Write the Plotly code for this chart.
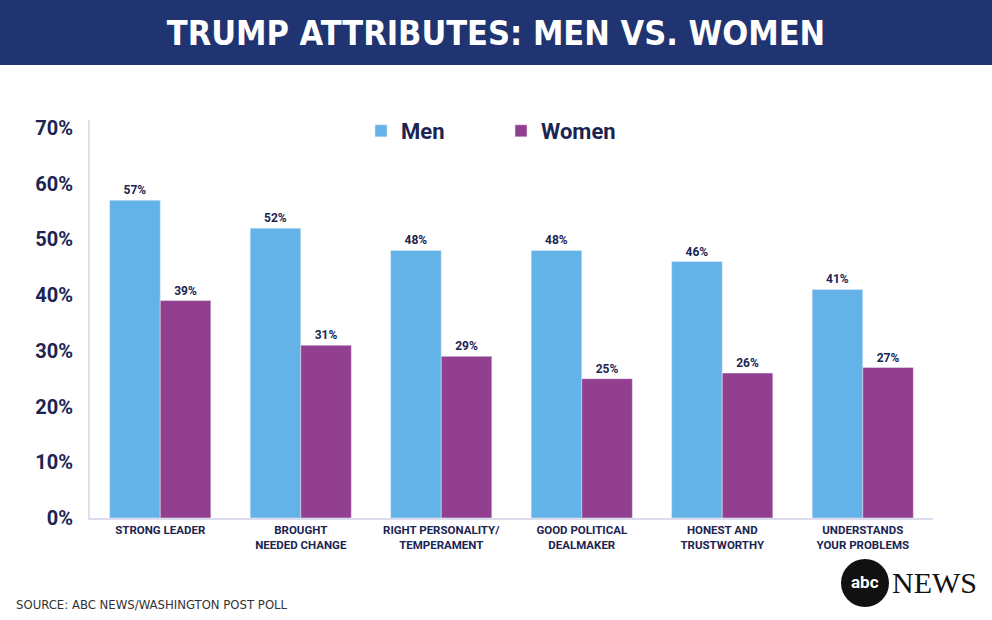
import plotly.graph_objects as go

categories = ["STRONG LEADER", "BROUGHT<br>NEEDED CHANGE", "RIGHT PERSONALITY/<br>TEMPERAMENT",
              "GOOD POLITICAL<br>DEALMAKER", "HONEST AND<br>TRUSTWORTHY", "UNDERSTANDS<br>YOUR PROBLEMS"]
men = [57, 52, 48, 48, 46, 41]
women = [39, 31, 29, 25, 26, 27]
tick_vals = [0, 10, 20, 30, 40, 50, 60, 70]
tick_text = ["0%", "10%", "20%", "30%", "40%", "50%", "60%", "70%"]

NAVY = "#1b2452"
W, H = 992, 620
L, R, T, B = 90, 59, 120, 102
PW, PH = W - L - R, H - T - B

def px_x(x):
    return (x - L) / PW

def px_y(y):
    return (H - B - y) / PH

fig = go.Figure()
fig.add_bar(x=categories, y=men, name="Men", marker_color="#63b2e8",
            text=[f"{v}%" for v in men], textposition="outside",
            textfont=dict(family="Roboto", size=12, color=NAVY, weight="bold"), cliponaxis=False)
fig.add_bar(x=categories, y=women, name="Women", marker_color="#933f8f",
            text=[f"{v}%" for v in women], textposition="outside",
            textfont=dict(family="Roboto", size=12, color=NAVY, weight="bold"), cliponaxis=False)

fig.update_layout(
    width=W, height=H,
    margin=dict(l=L, r=R, t=T, b=B),
    paper_bgcolor="white", plot_bgcolor="white",
    barmode="group", bargap=0.28, bargroupgap=0,
    title=dict(text="TRUMP ATTRIBUTES: MEN VS. WOMEN", x=0.5, xanchor="center",
               y=1 - 33 / H, yanchor="middle", yref="container",
               font=dict(family="DejaVu Sans Condensed", size=34, color="white", weight="bold")),
    legend=dict(orientation="h", x=px_x(361), y=px_y(110), xanchor="left", yanchor="top",
                font=dict(family="Roboto", size=22, color=NAVY, weight="bold"),
                entrywidth=95, entrywidthmode="pixels", itemwidth=30, bgcolor="rgba(0,0,0,0)"),
    xaxis=dict(showgrid=False, showline=True, linecolor="#dcdcef", linewidth=2,
               tickfont=dict(family="Roboto", size=11.5, color=NAVY, weight="bold"),
               ticks="", fixedrange=True),
    yaxis=dict(range=[0, 71.4], tickvals=tick_vals, ticktext=tick_text, showgrid=False,
               showline=True, linecolor="#dde0ec", linewidth=2, zeroline=False,
               tickfont=dict(family="Roboto", size=20, color=NAVY, weight="bold"),
               ticklabelstandoff=11, ticks=""),
    shapes=[
        dict(type="rect", xref="paper", yref="paper", x0=px_x(0), x1=px_x(W), y0=px_y(65), y1=px_y(0),
             fillcolor="#1f3471", line=dict(width=0), layer="below"),
        dict(type="circle", xref="paper", yref="paper", x0=px_x(841), x1=px_x(889),
             y0=px_y(607), y1=px_y(559), fillcolor="#111111", line=dict(width=0)),
    ],
    annotations=[
        dict(text="SOURCE: ABC NEWS/WASHINGTON POST POLL", xref="paper", yref="paper",
             x=px_x(14), y=px_y(604), xanchor="left", yanchor="middle", showarrow=False,
             font=dict(family="DejaVu Sans Condensed", size=13, color="#333333")),
        dict(text="<b>abc</b>", xref="paper", yref="paper", x=px_x(865), y=px_y(582),
             xanchor="center", yanchor="middle", showarrow=False,
             font=dict(family="Roboto", size=17, color="white")),
        dict(text="NEWS", xref="paper", yref="paper", x=px_x(890), y=px_y(582),
             xanchor="left", yanchor="middle", showarrow=False,
             font=dict(family="Liberation Serif", size=30, color="#111111")),
    ],
)

fig.write_html("out.html", config={"displayModeBar": False},
               post_script="document.body.style.margin='0';")
